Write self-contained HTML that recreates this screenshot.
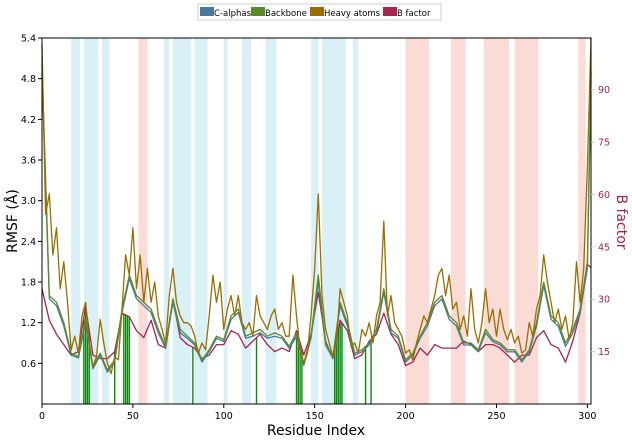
<!DOCTYPE html>
<html><head><meta charset="utf-8"><style>
body{margin:0;background:#fff;font-family:"DejaVu Sans","Liberation Sans",sans-serif}
#wrap{position:relative;width:632px;height:440px}
</style></head><body>
<div id="wrap">
<svg id="svg" width="632" height="440" xmlns="http://www.w3.org/2000/svg"></svg>
</div>
<script>
const resIdx=[0,4,8,12,16,20,24,28,32,36,40,44,48,52,56,60,64,68,72,76,80,84,88,92,96,100,104,108,112,116,120,124,128,132,136,140,144,148,152,156,160,164,168,172,176,180,184,188,192,196,200,204,208,212,216,220,224,228,232,236,240,244,248,252,256,260,264,268,272,276,280,284,288,292,296,300,302];
const backbone=[5.0,1.6,1.5,1.2,0.75,0.7,1.25,0.55,0.75,0.5,0.65,1.4,1.9,1.6,1.5,1.4,1.1,0.85,1.55,1.1,1.0,0.9,0.65,0.8,1.0,0.95,1.3,1.4,1.0,1.05,1.1,1.0,1.05,1.0,0.85,1.05,0.6,1.0,1.9,0.9,0.7,1.5,1.2,0.75,0.8,0.9,1.1,1.7,1.1,1.0,0.65,0.75,1.0,1.2,1.5,1.6,1.3,1.2,0.9,0.9,0.8,1.1,0.95,0.9,0.8,0.8,0.65,0.8,1.2,1.8,1.3,1.2,0.9,1.1,1.4,2.1,4.9];
const calpha=[4.9,1.55,1.45,1.15,0.72,0.68,1.2,0.52,0.72,0.47,0.62,1.35,1.85,1.55,1.45,1.35,1.05,0.82,1.5,1.05,0.97,0.87,0.62,0.77,0.97,0.92,1.25,1.35,0.97,1.0,1.05,0.97,1.0,0.97,0.82,1.0,0.57,0.97,1.8,0.87,0.67,1.45,1.15,0.72,0.77,0.87,1.05,1.65,1.05,0.97,0.62,0.72,0.97,1.15,1.45,1.55,1.25,1.15,0.87,0.87,0.77,1.05,0.92,0.87,0.77,0.77,0.62,0.77,1.15,1.75,1.25,1.15,0.85,1.05,1.35,2.0,4.8];
const heavyIdx=[0,2,4,6,8,10,12,14,16,18,20,22,24,26,28,30,32,34,36,38,40,42,44,46,48,50,52,54,56,58,60,62,64,66,68,70,72,74,76,78,80,82,84,86,88,90,92,94,96,98,100,102,104,106,108,110,112,114,116,118,120,122,124,126,128,130,132,134,136,138,140,142,144,146,148,150,152,154,156,158,160,162,164,166,168,170,172,174,176,178,180,182,184,186,188,190,192,194,196,198,200,202,204,206,208,210,212,214,216,218,220,222,224,226,228,230,232,234,236,238,240,242,244,246,248,250,252,254,256,258,260,262,264,266,268,270,272,274,276,278,280,282,284,286,288,290,292,294,296,298,300,302];
const heavy=[5.3,2.8,3.1,2.2,2.6,1.7,2.1,1.5,0.8,1.0,0.75,1.3,1.5,0.9,0.55,0.7,1.25,0.9,0.6,0.45,0.7,0.65,1.4,2.2,1.9,2.6,1.7,2.2,1.5,2.0,1.5,1.8,1.3,1.1,0.9,1.6,2.0,1.5,1.3,1.2,1.2,1.15,1.0,0.75,0.9,0.8,1.3,1.9,1.5,1.8,1.1,1.4,1.6,1.3,1.6,1.2,1.1,1.2,1.0,1.6,1.3,1.2,1.1,1.3,1.4,1.1,1.2,1.0,1.0,1.9,1.3,0.8,0.6,0.75,1.3,2.0,3.1,1.6,1.1,0.9,0.7,0.9,1.7,1.5,1.3,0.85,0.9,0.75,1.1,1.0,1.2,0.9,1.3,1.5,2.7,1.3,1.6,1.2,1.1,1.0,0.75,0.8,0.65,0.9,1.1,1.3,1.2,1.4,1.6,1.9,2.0,1.6,1.9,1.4,1.5,1.1,1.3,1.0,1.7,1.1,0.9,1.2,1.7,1.2,1.4,1.0,1.4,1.1,0.95,1.1,0.9,1.0,0.75,0.8,1.2,1.0,1.4,1.6,2.2,1.8,1.5,1.2,1.4,1.1,1.3,0.95,1.2,2.1,1.5,2.0,3.5,5.4];
const bfactor=[33,24,20,17,14,15,28,14,13,13,15,26,25,21,19,24,17,16,30,19,17,16,13,14,17,17,21,20,16,18,20,17,15,16,15,21,14,20,32,18,13,24,21,13,14,18,20,26,20,17,11,12,16,14,17,16,16,16,18,17,15,17,17,16,14,12,14,14,19,21,17,16,12,18,26,40,39];
const blueBands=[[16,21],[23,31],[33,37],[67,70],[72,82],[84,91],[100,102],[110,115],[123,129],[148,152],[154,167],[171,174]];
const pinkBands=[[53,58],[200,213],[225,233],[243,257],[260,273],[295,299]];
const markRes=[23,24,25,26,40,45,46,47,48,83,118,140,141,142,143,161,162,163,164,165,178,181];
const xTicks=[0,50,100,150,200,250,300];
const yTicks=[0.6,1.2,1.8,2.4,3.0,3.6,4.2,4.8,5.4];
const bTicks=[15,30,45,60,75,90];

const L=42,R=591,T=38,B=404;
const x=v=>L+(v/302)*(R-L);
const y=v=>B-(v/5.4)*(B-T);
const yb=v=>B-(v/104.8)*(B-T);
const svg=document.getElementById('svg');
const NS='http://www.w3.org/2000/svg';
function mk(t,a,parent){const e=document.createElementNS(NS,t);for(const k in a)e.setAttribute(k,a[k]);(parent||svg).appendChild(e);return e;}
function interp(arr,r){for(let i=0;i<resIdx.length-1;i++){if(r>=resIdx[i]&&r<=resIdx[i+1]){const f=(r-resIdx[i])/(resIdx[i+1]-resIdx[i]);return arr[i]+f*(arr[i+1]-arr[i]);}}return arr[arr.length-1];}

blueBands.forEach(b=>{const e=mk('rect',{x:x(b[0]),y:T,width:x(b[1])-x(b[0]),height:B-T,fill:'#d8f0f6'});

});
pinkBands.forEach(b=>{const e=mk('rect',{x:x(b[0]),y:T,width:x(b[1])-x(b[0]),height:B-T,fill:'#fadbd6'});

});

markRes.forEach(r=>{const e=mk('line',{x1:x(r),x2:x(r),y1:B,y2:yb(interp(bfactor,r)),stroke:'#0a8a0a','stroke-width':1.4});

});

function line(idx,arr,yf,col,name){const d=arr.map((v,i)=>(i?'L':'M')+x(idx[i]).toFixed(1)+','+yf(v).toFixed(1)).join('');
const e=mk('path',{d:d,fill:'none',stroke:col,'stroke-width':1.3,'stroke-linejoin':'round'});

}
line(resIdx,bfactor,yb,'#a8234f','bfactor-line');
line(resIdx,calpha,y,'#4a7a9a','calpha-line');
line(resIdx,backbone,y,'#5a8a2a','backbone-line');
line(heavyIdx,heavy,y,'#9a6e00','heavy-atoms-line');

mk('rect',{x:L,y:T,width:R-L,height:B-T,fill:'none',stroke:'#000','stroke-width':1});
xTicks.forEach(t=>{mk('line',{x1:x(t),x2:x(t),y1:B,y2:B+4,stroke:'#000'});
const e=mk('text',{x:x(t),y:B+15,'font-size':9.5,'text-anchor':'middle'});e.textContent=t;

});
yTicks.forEach(t=>{mk('line',{x1:L-4,x2:L,y1:y(t),y2:y(t),stroke:'#000'});
const e=mk('text',{x:L-6,y:y(t)+3.5,'font-size':9.5,'text-anchor':'end'});e.textContent=t.toFixed(1);

});
bTicks.forEach(t=>{mk('line',{x1:R,x2:R+4,y1:yb(t),y2:yb(t),stroke:'#ccc'});
const e=mk('text',{x:R+7,y:yb(t)+3.5,'font-size':9.5,fill:'#a8234f'});e.textContent=t;

});
</script>
<svg width="632" height="440" style="position:absolute;left:0;top:0" xmlns="http://www.w3.org/2000/svg">
<text x="316" y="435" font-size="14" text-anchor="middle" font-family="DejaVu Sans,sans-serif">Residue Index</text>
<text transform="translate(17,221) rotate(-90)" font-size="14" text-anchor="middle" font-family="DejaVu Sans,sans-serif">RMSF (Å)</text>
<text transform="translate(617,222) rotate(90)" font-size="14" text-anchor="middle" fill="#a8234f" font-family="DejaVu Sans,sans-serif">B factor</text>
<g>
<rect x="198" y="4" width="243" height="16" fill="#fff" stroke="#ccc"/>
<rect x="200" y="7" width="14" height="9" fill="#4a7a9a"/>
<text x="214" y="16" font-size="8.5">C-alphas</text>
<rect x="251" y="7" width="14" height="9" fill="#5a8a2a"/>
<text x="265" y="16" font-size="8.5">Backbone</text>
<rect x="310" y="7" width="14" height="9" fill="#9a6e00"/>
<text x="324" y="16" font-size="8.5">Heavy atoms</text>
<rect x="383" y="7" width="14" height="9" fill="#a8234f"/>
<text x="397" y="16" font-size="8.5">B factor</text>
</g>
</svg>
</body></html>
